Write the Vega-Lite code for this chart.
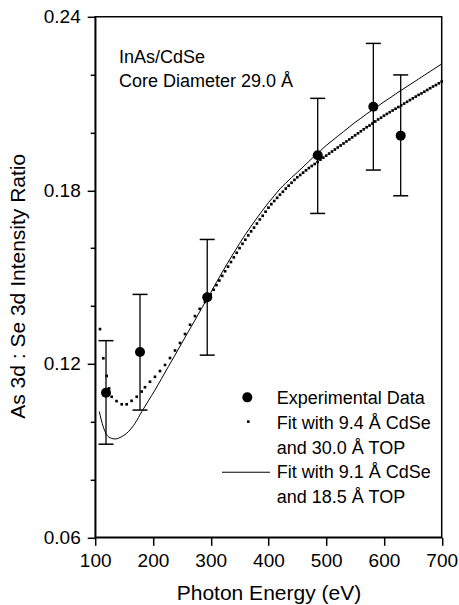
{
  "$schema": "https://vega.github.io/schema/vega-lite/v6.json",
  "width": 346.5,
  "height": 520.5,
  "autosize": {"type": "none"},
  "padding": {"left": 95.2, "top": 16.8, "right": 17.3, "bottom": 67.7},
  "background": "white",
  "config": {
    "font": "Liberation Sans",
    "view": {"stroke": "black", "strokeWidth": 1.5},
    "axis": {"grid": false, "domainColor": "black", "domainWidth": 1.5, "tickColor": "black", "tickWidth": 1.5,
      "labelColor": "black", "titleColor": "black", "labelFont": "Liberation Sans", "titleFont": "Liberation Sans",
      "labelFontSize": 19, "titleFontSize": 21, "titleFontWeight": "normal", "labelOverlap": false, "labelFlush": false}
  },
  "datasets": {
    "exp": [
      {"energy": 118.7, "ratio": 0.110, "lo": 0.0922, "hi": 0.128},
      {"energy": 177.6, "ratio": 0.1241, "lo": 0.104, "hi": 0.144},
      {"energy": 294, "ratio": 0.1430, "lo": 0.123, "hi": 0.163},
      {"energy": 485.3, "ratio": 0.1921, "lo": 0.172, "hi": 0.2118},
      {"energy": 581.6, "ratio": 0.2089, "lo": 0.187, "hi": 0.2308},
      {"energy": 629, "ratio": 0.1989, "lo": 0.1781, "hi": 0.2199}
    ],
    "fitA": [
      {"energy": 108.3, "ratio": 0.1320}, {"energy": 114, "ratio": 0.1219}, {"energy": 119.9, "ratio": 0.1158},
      {"energy": 124, "ratio": 0.1115}, {"energy": 128.5, "ratio": 0.1086}, {"energy": 137, "ratio": 0.1071},
      {"energy": 145.9, "ratio": 0.1060}, {"energy": 154.5, "ratio": 0.1060}, {"energy": 163, "ratio": 0.1072},
      {"energy": 171.9, "ratio": 0.1086}, {"energy": 180.5, "ratio": 0.1104}, {"energy": 186.2, "ratio": 0.1119},
      {"energy": 194.9, "ratio": 0.1138}, {"energy": 203.5, "ratio": 0.1155}, {"energy": 212.2, "ratio": 0.1175},
      {"energy": 220.9, "ratio": 0.1196}, {"energy": 229.5, "ratio": 0.1220}, {"energy": 238.2, "ratio": 0.1246},
      {"energy": 246.8, "ratio": 0.1272}, {"energy": 255.5, "ratio": 0.1303}, {"energy": 264.2, "ratio": 0.1335},
      {"energy": 272.8, "ratio": 0.1365}, {"energy": 281, "ratio": 0.1390}, {"energy": 290, "ratio": 0.1414},
      {"energy": 296, "ratio": 0.1430},
      {"energy": 300, "ratio": 0.1440}, {"energy": 305, "ratio": 0.1456}, {"energy": 310, "ratio": 0.1472},
      {"energy": 315, "ratio": 0.1488}, {"energy": 320, "ratio": 0.1504}, {"energy": 325, "ratio": 0.1520},
      {"energy": 330, "ratio": 0.1536}, {"energy": 335, "ratio": 0.1552}, {"energy": 340, "ratio": 0.1568},
      {"energy": 345, "ratio": 0.1584}, {"energy": 350, "ratio": 0.1600}, {"energy": 355, "ratio": 0.1615},
      {"energy": 360, "ratio": 0.1629}, {"energy": 365, "ratio": 0.1644}, {"energy": 370, "ratio": 0.1658},
      {"energy": 375, "ratio": 0.1671}, {"energy": 380, "ratio": 0.1685}, {"energy": 385, "ratio": 0.1699},
      {"energy": 390, "ratio": 0.1712}, {"energy": 395, "ratio": 0.1726}, {"energy": 400, "ratio": 0.1740},
      {"energy": 405, "ratio": 0.1752}, {"energy": 410, "ratio": 0.1763}, {"energy": 415, "ratio": 0.1774},
      {"energy": 420, "ratio": 0.1785}, {"energy": 425, "ratio": 0.1795}, {"energy": 430, "ratio": 0.1806},
      {"energy": 435, "ratio": 0.1816}, {"energy": 440, "ratio": 0.1826}, {"energy": 445, "ratio": 0.1836},
      {"energy": 450, "ratio": 0.1845}, {"energy": 455, "ratio": 0.1853}, {"energy": 460, "ratio": 0.1861},
      {"energy": 465, "ratio": 0.1869}, {"energy": 470, "ratio": 0.1877}, {"energy": 475, "ratio": 0.1884},
      {"energy": 480, "ratio": 0.1891}, {"energy": 485, "ratio": 0.1898}, {"energy": 490, "ratio": 0.1906},
      {"energy": 495, "ratio": 0.1913}, {"energy": 500, "ratio": 0.1920}, {"energy": 505, "ratio": 0.1927},
      {"energy": 510, "ratio": 0.1934}, {"energy": 515, "ratio": 0.1941}, {"energy": 520, "ratio": 0.1948},
      {"energy": 525, "ratio": 0.1955}, {"energy": 530, "ratio": 0.1962}, {"energy": 535, "ratio": 0.1969},
      {"energy": 540, "ratio": 0.1976}, {"energy": 545, "ratio": 0.1983}, {"energy": 550, "ratio": 0.1990},
      {"energy": 555, "ratio": 0.1997}, {"energy": 560, "ratio": 0.2004}, {"energy": 565, "ratio": 0.2011},
      {"energy": 570, "ratio": 0.2018}, {"energy": 575, "ratio": 0.2024}, {"energy": 580, "ratio": 0.2031},
      {"energy": 585, "ratio": 0.2038}, {"energy": 590, "ratio": 0.2045}, {"energy": 595, "ratio": 0.2051},
      {"energy": 600, "ratio": 0.2058}, {"energy": 605, "ratio": 0.2064}, {"energy": 610, "ratio": 0.2070},
      {"energy": 615, "ratio": 0.2076}, {"energy": 620, "ratio": 0.2082}, {"energy": 625, "ratio": 0.2088},
      {"energy": 630, "ratio": 0.2094}, {"energy": 635, "ratio": 0.2100}, {"energy": 640, "ratio": 0.2106},
      {"energy": 645, "ratio": 0.2112}, {"energy": 650, "ratio": 0.2118}, {"energy": 655, "ratio": 0.2124},
      {"energy": 660, "ratio": 0.2130}, {"energy": 665, "ratio": 0.2135}, {"energy": 670, "ratio": 0.2141},
      {"energy": 675, "ratio": 0.2147}, {"energy": 680, "ratio": 0.2153}, {"energy": 685, "ratio": 0.2159},
      {"energy": 690, "ratio": 0.2164}, {"energy": 695, "ratio": 0.2170}, {"energy": 700, "ratio": 0.2176}
    ],
    "fitB": [
      {"energy": 107, "ratio": 0.1035}, {"energy": 114, "ratio": 0.0982}, {"energy": 122.7, "ratio": 0.0948},
      {"energy": 134.3, "ratio": 0.0940}, {"energy": 145.9, "ratio": 0.0948}, {"energy": 157.4, "ratio": 0.0965},
      {"energy": 168.9, "ratio": 0.0994}, {"energy": 180.5, "ratio": 0.1034}, {"energy": 192, "ratio": 0.1072},
      {"energy": 203.5, "ratio": 0.1109}, {"energy": 215.2, "ratio": 0.1150}, {"energy": 226.6, "ratio": 0.1190},
      {"energy": 238.2, "ratio": 0.1230}, {"energy": 249.8, "ratio": 0.1271}, {"energy": 261.2, "ratio": 0.1311},
      {"energy": 272.8, "ratio": 0.1351}, {"energy": 284.4, "ratio": 0.1392}, {"energy": 296, "ratio": 0.1432},
      {"energy": 300, "ratio": 0.1446}, {"energy": 310, "ratio": 0.1482}, {"energy": 320, "ratio": 0.1517},
      {"energy": 330, "ratio": 0.1551}, {"energy": 340, "ratio": 0.1584}, {"energy": 350, "ratio": 0.1616},
      {"energy": 360, "ratio": 0.1647}, {"energy": 370, "ratio": 0.1676}, {"energy": 380, "ratio": 0.1704},
      {"energy": 390, "ratio": 0.1731}, {"energy": 400, "ratio": 0.1757}, {"energy": 410, "ratio": 0.1781},
      {"energy": 420, "ratio": 0.1805}, {"energy": 430, "ratio": 0.1825}, {"energy": 440, "ratio": 0.1844},
      {"energy": 450, "ratio": 0.1862}, {"energy": 460, "ratio": 0.1881}, {"energy": 470, "ratio": 0.1900},
      {"energy": 480, "ratio": 0.1919}, {"energy": 490, "ratio": 0.1937}, {"energy": 500, "ratio": 0.1955},
      {"energy": 510, "ratio": 0.1971}, {"energy": 520, "ratio": 0.1987}, {"energy": 530, "ratio": 0.2003},
      {"energy": 540, "ratio": 0.2019}, {"energy": 550, "ratio": 0.2035}, {"energy": 560, "ratio": 0.2049},
      {"energy": 570, "ratio": 0.2064}, {"energy": 580, "ratio": 0.2078}, {"energy": 590, "ratio": 0.2092},
      {"energy": 600, "ratio": 0.2106}, {"energy": 610, "ratio": 0.2119}, {"energy": 620, "ratio": 0.2133},
      {"energy": 630, "ratio": 0.2146}, {"energy": 640, "ratio": 0.2159}, {"energy": 650, "ratio": 0.2172},
      {"energy": 660, "ratio": 0.2185}, {"energy": 670, "ratio": 0.2198}, {"energy": 680, "ratio": 0.2211},
      {"energy": 690, "ratio": 0.2224}, {"energy": 700, "ratio": 0.2237}
    ]
  },
  "layer": [
    {
      "data": {"name": "fitB"},
      "mark": {"type": "line", "color": "black", "strokeWidth": 1, "interpolate": "monotone"},
      "encoding": {
        "x": {"field": "energy", "type": "quantitative",
          "scale": {"domain": [100, 700], "nice": false, "zero": false},
          "axis": {
            "title": "Photon Energy (eV)",
            "values": [100, 150, 200, 250, 300, 350, 400, 450, 500, 550, 600, 650, 700],
            "tickSize": {"condition": {"test": "datum.value % 100 === 0", "value": 8}, "value": 5},
            "labelExpr": "datum.value % 100 === 0 ? datum.label : ''",
            "labelPadding": 6,
            "titlePadding": 12
          }},
        "y": {"field": "ratio", "type": "quantitative",
          "scale": {"domain": [0.06, 0.24], "nice": false, "zero": false},
          "axis": {
            "title": "As 3d : Se 3d Intensity Ratio",
            "values": [0.06, 0.08, 0.10, 0.12, 0.14, 0.16, 0.18, 0.20, 0.22, 0.24],
            "tickSize": {"condition": {"test": "abs(datum.value / 0.06 - round(datum.value / 0.06)) < 0.001", "value": 8}, "value": 5},
            "labelExpr": "abs(datum.value / 0.06 - round(datum.value / 0.06)) < 0.001 ? format(datum.value, '.2f') : ''",
            "labelPadding": 7,
            "titlePadding": 14.5,
            "titleY": 269
          }}
      }
    },
    {
      "data": {"name": "fitA"},
      "mark": {"type": "point", "shape": "square", "filled": true, "color": "black", "size": 7, "opacity": 1},
      "encoding": {
        "x": {"field": "energy", "type": "quantitative"},
        "y": {"field": "ratio", "type": "quantitative"}
      }
    },
    {
      "data": {"name": "exp"},
      "mark": {"type": "rule", "color": "black", "strokeWidth": 1.3},
      "encoding": {
        "x": {"field": "energy", "type": "quantitative"},
        "y": {"field": "lo", "type": "quantitative"},
        "y2": {"field": "hi"}
      }
    },
    {
      "data": {"name": "exp"},
      "mark": {"type": "tick", "orient": "horizontal", "color": "black", "size": 15, "thickness": 1.5, "opacity": 1},
      "encoding": {
        "x": {"field": "energy", "type": "quantitative"},
        "y": {"field": "lo", "type": "quantitative"}
      }
    },
    {
      "data": {"name": "exp"},
      "mark": {"type": "tick", "orient": "horizontal", "color": "black", "size": 15, "thickness": 1.5, "opacity": 1},
      "encoding": {
        "x": {"field": "energy", "type": "quantitative"},
        "y": {"field": "hi", "type": "quantitative"}
      }
    },
    {
      "data": {"name": "exp"},
      "mark": {"type": "point", "shape": "circle", "filled": true, "color": "black", "size": 100, "opacity": 1},
      "encoding": {
        "x": {"field": "energy", "type": "quantitative"},
        "y": {"field": "ratio", "type": "quantitative"}
      }
    },
    {
      "data": {"values": [{}]},
      "mark": {"type": "text", "font": "Liberation Sans", "fontSize": 18, "align": "left", "baseline": "alphabetic", "lineHeight": 24.6, "color": "black",
        "text": ["InAs/CdSe", "Core Diameter 29.0 Å"]},
      "encoding": {"x": {"datum": 141.2}, "y": {"datum": 0.2241}}
    },
    {
      "data": {"values": [{}]},
      "mark": {"type": "text", "font": "Liberation Sans", "fontSize": 18, "align": "left", "baseline": "alphabetic", "lineHeight": 24.8, "color": "black",
        "text": ["Experimental Data", "Fit with 9.4 Å CdSe", "\u00a0and 30.0 Å TOP", "Fit with 9.1 Å CdSe", "\u00a0and 18.5 Å TOP"]},
      "encoding": {"x": {"datum": 414.3}, "y": {"datum": 0.1061}}
    },
    {
      "data": {"values": [{}]},
      "mark": {"type": "point", "shape": "circle", "filled": true, "color": "black", "size": 100, "opacity": 1},
      "encoding": {"x": {"datum": 363.4}, "y": {"datum": 0.1084}}
    },
    {
      "data": {"values": [{}]},
      "mark": {"type": "point", "shape": "square", "filled": true, "color": "black", "size": 7, "opacity": 1},
      "encoding": {"x": {"datum": 365.1}, "y": {"datum": 0.1000}}
    },
    {
      "data": {"values": [{}]},
      "mark": {"type": "rule", "color": "black", "strokeWidth": 1},
      "encoding": {"x": {"datum": 319.6}, "x2": {"datum": 402.8}, "y": {"datum": 0.0825}}
    }
  ]
}
